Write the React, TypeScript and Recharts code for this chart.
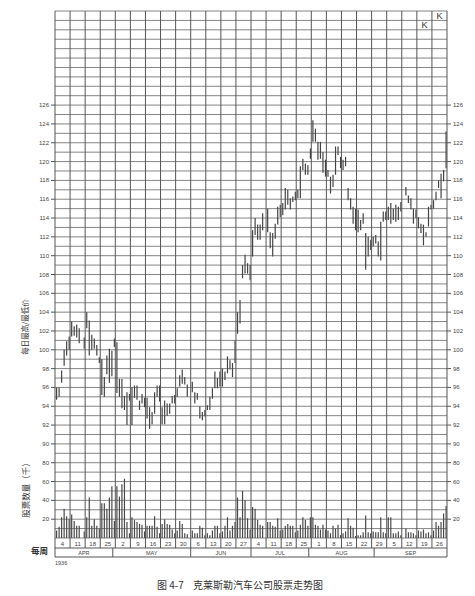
import { ComposedChart, Bar, XAxis, YAxis, CartesianGrid, ReferenceArea, ReferenceLine } from 'recharts';

// week-ending dates (Saturdays), April - September 1936
const weekLabels = ['4', '11', '18', '25', '2', '9', '16', '23', '30', '6', '13', '20', '27',
    '4', '11', '18', '25', '1', '8', '15', '22', '29', '5', '12', '19', '26'];
const monthNames = ['APR', 'MAY', 'JUN', 'JUL', 'AUG', 'SEP'];
const monthStarts = [0, 23, 54, 78, 101, 127]; // first trading-day slot of each month
const priceLabels = [90, 92, 94, 96, 98, 100, 102, 104, 106, 108, 110, 112, 114, 116, 118, 120, 122, 124, 126];
const volumeLabels = [20, 40, 60, 80];

// daily low / high (null = holiday), six slots per week
const lows = [
    94.7, 95.0, 96.5, 98.3, 99.4, 100.0,
    101.4, 101.5, 101.3, 100.7, null, 100.1,
    102.3, 99.4, 100.0, 100.1, 99.4, 98.6,
    95.2, 95.0, 97.4, 96.5, 97.2, 100.3,
    95.4, 95.0, 93.8, 93.6, 92.0, 94.6,
    92.0, 94.9, 94.7, 93.6, 94.3, 93.9,
    92.7, 91.6, 92.1, 93.2, 95.0, 94.5,
    92.1, 92.1, 93.0, 93.2, 94.3, 94.3,
    95.0, 96.1, 96.4, 96.3, 95.0, null,
    95.5, 94.3, 94.7, 92.7, 92.5, 92.9,
    93.6, 93.6, 94.8, 95.9, 95.9, 96.1,
    96.1, 96.8, 97.5, 97.9, 97.1, 98.6,
    101.7, 102.8, 107.6, 108.1, 108.1, 107.4,
    109.9, 112.2, 111.7, 111.7, 112.7, null,
    112.5, 110.8, 109.9, 111.8, 113.3, 114.1,
    114.3, 114.9, 115.4, 114.9, 115.7, 115.9,
    116.1, 116.1, 119.1, 118.6, 118.6, 120.3,
    122.1, 122.1, 120.2, 120.3, 118.8, 118.4,
    118.4, 116.6, 117.3, 118.6, 120.7, 119.3,
    119.1, 119.5, 115.9, 114.9, 113.4, 112.7,
    112.5, 112.7, 113.4, 108.5, 109.9, 110.6,
    111.0, 111.3, 109.9, 109.5, 113.6, 113.8,
    113.8, 113.4, 113.8, 113.6, 113.8, 114.7,
    null, 116.4, 115.6, 114.9, 113.4, 114.0,
    112.9, 112.4, 111.1, 112.0, 113.1, 114.9,
    115.0, 115.9, 117.2, 116.1, 117.9, 119.3,
];
const highs = [
    96.0, 96.0, 97.8, 100.0, 100.9, 101.4,
    103.0, 102.5, 102.7, 102.3, null, 101.3,
    104.0, 103.1, 101.6, 101.2, 100.5, 99.2,
    99.0, 97.1, 99.4, 100.1, 99.9, 101.2,
    100.8, 96.9, 96.9, 95.1, 95.5, 95.3,
    96.0, 96.2, 96.2, 94.6, 95.3, 94.9,
    94.9, 93.9, 93.4, 95.5, 96.2, 96.2,
    93.9, 94.6, 94.3, 94.3, 95.1, 95.2,
    95.9, 97.3, 97.9, 97.1, 96.3, null,
    96.6, 95.5, 95.4, 94.0, 93.4, 93.6,
    94.1, 95.0, 95.9, 97.7, 97.0, 97.7,
    98.0, 97.7, 99.3, 98.9, 98.6, 101.0,
    104.0, 105.3, 109.0, 110.1, 109.2, 109.0,
    112.7, 114.0, 113.3, 113.3, 114.5, null,
    115.0, 112.5, 112.4, 113.4, 115.2, 115.4,
    115.6, 117.2, 117.0, 116.1, 116.3, 116.8,
    117.0, 119.5, 120.3, 119.8, 119.6, 121.4,
    124.4, 123.5, 122.1, 122.1, 121.0, 120.2,
    119.1, 118.4, 118.6, 121.6, 121.6, 120.5,
    120.2, 120.5, 117.2, 116.1, 115.2, 115.0,
    114.9, 113.8, 114.5, 112.4, 112.0, 111.7,
    112.0, 112.2, 111.5, 113.6, 114.7, 114.7,
    115.2, 115.6, 115.0, 115.4, 115.2, 115.7,
    null, 117.3, 116.4, 116.1, 115.0, 114.9,
    114.1, 113.4, 113.3, 112.5, 115.2, 115.4,
    115.9, 116.8, 118.0, 118.7, 119.1, 123.2,
];
// daily volume, thousands of shares
const volumes = [
    8, 12, 22, 31, 23, 20,
    25, 18, 13, 13, null, 7,
    22, 43, 13, 20, 13, 10,
    37, 37, 31, 43, 55, 18,
    55, 44, 57, 63, 17, 5,
    22, 19, 17, 15, 14, 7,
    13, 13, 13, 23, 12, 5,
    15, 20, 15, 14, 9, 5,
    8, 18, 15, 5, 4, null,
    8, 5, 5, 13, 11, 3,
    5, 3, 8, 13, 13, 5,
    7, 13, 22, 8, 13, 17,
    43, 22, 50, 40, 21, 9,
    33, 31, 19, 14, 13, null,
    17, 17, 13, 12, 21, 8,
    9, 13, 15, 13, 13, 6,
    8, 14, 22, 19, 13, 22,
    22, 14, 13, 9, 14, 9,
    8, 5, 13, 10, 14, 3,
    5, 7, 21, 13, 11, 2,
    3, 3, 6, 24, 6, 5,
    7, 6, 6, 22, 6, 5,
    22, 22, 5, 5, 7, 3,
    null, 10, 6, 6, 5, 3,
    8, 7, 9, 5, 6, 3,
    8, 17, 13, 17, 26, 34,
];

const DAYS = lows.length;
const PRICE_DOMAIN: [number, number] = [80, 136];
const VOL_DOMAIN: [number, number] = [0, 560];
const X_DOMAIN: [number, number] = [-0.5, DAYS - 0.5];

const data = lows.map((lo, i) => ({
    day: i,
    hl: lo == null || highs[i] == null ? null : [lo, highs[i]],
    vol: volumes[i],
}));

const weekBounds = Array.from({ length: weekLabels.length + 1 }, (_, k) => k * 6 - 0.5);
const weekCenters = weekLabels.map((_, k) => k * 6 + 2.5);
const weekBoundSet = new Set(weekBounds);
const monthBounds = [...monthStarts.map((s) => s - 0.5), DAYS - 0.5];
const monthCenters = monthNames.map((_, k) => (monthBounds[k] + monthBounds[k + 1]) / 2);
const monthBoundSet = new Set(monthBounds);
const gridPrices = Array.from({ length: PRICE_DOMAIN[1] - PRICE_DOMAIN[0] + 1 }, (_, k) => PRICE_DOMAIN[0] + k);

// volume labels share the price grid: 0 sits on the bottom line
const volToPrice = (v: number) =>
    PRICE_DOMAIN[0] + (v / VOL_DOMAIN[1]) * (PRICE_DOMAIN[1] - PRICE_DOMAIN[0]);
const labelAt = (p: number) => {
    if (priceLabels.includes(p)) return String(p);
    const v = volumeLabels.find((vl) => Math.abs(volToPrice(vl) - p) < 1e-6);
    return v != null ? String(v) : '';
};

const LINE = '#555';
const TEXT = '#444';
const NUM_FONT = '"Liberation Sans", Arial, sans-serif';
const CJK_FONT = '"Noto Sans CJK SC", sans-serif';
const DAY_ROW = 10;
const MONTH_ROW = 9;

// eslint-disable-next-line @typescript-eslint/no-explicit-any
const leftTick = (props: any) => {
    const { x, y, payload } = props;
    const label = labelAt(payload.value);
    if (!label) return <g />;
    return (
        <g>
            <line x1={x - 4} x2={x} y1={y} y2={y} stroke={LINE} />
            <text x={x - 6} y={y} textAnchor="end" dominantBaseline="central" fontSize={6} fill={TEXT} fontFamily={NUM_FONT}>{label}</text>
        </g>
    );
};

// eslint-disable-next-line @typescript-eslint/no-explicit-any
const rightTick = (props: any) => {
    const { x, y, payload } = props;
    const label = labelAt(payload.value);
    if (!label) return <g />;
    return (
        <g>
            <line x1={x} x2={x + 4} y1={y} y2={y} stroke={LINE} />
            <text x={x + 6} y={y} textAnchor="start" dominantBaseline="central" fontSize={6} fill={TEXT} fontFamily={NUM_FONT}>{label}</text>
        </g>
    );
};

// eslint-disable-next-line @typescript-eslint/no-explicit-any
const dayTick = (props: any) => {
    const { x, y, payload } = props;
    const v = payload.value;
    if (weekBoundSet.has(v)) return <line x1={x} x2={x} y1={y} y2={y + DAY_ROW} stroke={LINE} />;
    const i = weekCenters.indexOf(v);
    return (
        <text x={x} y={y + DAY_ROW / 2 + 0.5} textAnchor="middle" dominantBaseline="central" fontSize={6} fill={TEXT} fontFamily={NUM_FONT}>
            {weekLabels[i]}
        </text>
    );
};

// eslint-disable-next-line @typescript-eslint/no-explicit-any
const monthTick = (props: any) => {
    const { x, y, payload } = props;
    const v = payload.value;
    if (monthBoundSet.has(v)) return <line x1={x} x2={x} y1={y} y2={y + MONTH_ROW} stroke={LINE} />;
    const i = monthCenters.indexOf(v);
    return (
        <text x={x} y={y + MONTH_ROW / 2 + 0.5} textAnchor="middle" dominantBaseline="central" fontSize={5.5} fill={TEXT} fontFamily={NUM_FONT}>
            {monthNames[i]}
        </text>
    );
};

// eslint-disable-next-line @typescript-eslint/no-explicit-any
const kLabel = (props: any) => {
    const { viewBox } = props;
    return (
        <text x={viewBox.x + viewBox.width / 2} y={viewBox.y + viewBox.height / 2} textAnchor="middle" dominantBaseline="central"
            fontSize={9} fill="#333" fontFamily={NUM_FONT}>K</text>
    );
};

const dayTicks = [...weekBounds, ...weekCenters].sort((a, b) => a - b);
const monthTicks = [...monthBounds, ...monthCenters].sort((a, b) => a - b);

export default function App() {
    return (
        <div style={{ position: 'absolute', left: 0, top: 0, width: 475, height: 596, background: '#fff' }}>
            <ComposedChart
                width={475}
                height={560}
                data={data}
                margin={{ top: 11, right: 0, left: 30, bottom: 0 }}
                style={{ position: 'absolute', left: 0, top: 0 }}
            >
                <CartesianGrid xAxisId={0} yAxisId="p" vertical={false} stroke="#777" strokeWidth={0.9} />
                {weekBounds.map((b) => (
                    <ReferenceLine key={b} xAxisId={0} yAxisId="p" x={b} stroke={LINE} strokeWidth={1} ifOverflow="visible" />
                ))}
                <XAxis xAxisId={0} dataKey="day" type="number" domain={X_DOMAIN} allowDataOverflow ticks={weekBounds}
                    interval={0} height={0} tick={false} tickLine={false} axisLine={false} />
                <XAxis xAxisId="d" dataKey="day" type="number" domain={X_DOMAIN} allowDataOverflow ticks={dayTicks}
                    interval={0} height={DAY_ROW} tick={dayTick} tickSize={0} tickMargin={0} tickLine={false} axisLine={false} />
                <XAxis xAxisId="m" dataKey="day" type="number" domain={X_DOMAIN} allowDataOverflow ticks={monthTicks}
                    interval={0} height={MONTH_ROW} tick={monthTick} tickSize={0} tickMargin={0} tickLine={false}
                    axisLine={{ stroke: LINE }} />
                <XAxis xAxisId="mb" dataKey="day" type="number" domain={X_DOMAIN} allowDataOverflow ticks={[]}
                    height={3} tick={false} tickLine={false} axisLine={{ stroke: LINE }} />
                <XAxis xAxisId="xv" dataKey="day" type="number" domain={X_DOMAIN} allowDataOverflow hide />
                <YAxis yAxisId="p" type="number" domain={PRICE_DOMAIN} allowDataOverflow ticks={gridPrices} interval={0}
                    width={25} tick={leftTick} tickSize={0} tickMargin={0} tickLine={false} axisLine={false} />
                <YAxis yAxisId="pr" orientation="right" type="number" domain={PRICE_DOMAIN} allowDataOverflow ticks={gridPrices}
                    interval={0} width={28} tick={rightTick} tickSize={0} tickMargin={0} tickLine={false} axisLine={false} />
                <YAxis yAxisId="v" type="number" domain={VOL_DOMAIN} allowDataOverflow hide />
                <Bar dataKey="hl" xAxisId={0} yAxisId="p" barSize={1.2} fill="#444" isAnimationActive={false} />
                <Bar dataKey="vol" xAxisId="xv" yAxisId="v" barSize={1.2} fill="#4a4a4a" isAnimationActive={false} />
                <ReferenceArea xAxisId={0} yAxisId="p" x1={143.5} x2={149.5} y1={134} y2={135} fillOpacity={0} strokeOpacity={0}
                    label={kLabel} />
                <ReferenceArea xAxisId={0} yAxisId="p" x1={149.5} x2={155.5} y1={135} y2={136} fillOpacity={0} strokeOpacity={0}
                    label={kLabel} />
            </ComposedChart>
            <svg width={475} height={596} style={{ position: 'absolute', left: 0, top: 0, pointerEvents: 'none' }}>
                <text transform="translate(24,327) rotate(-90)" textAnchor="middle" dominantBaseline="central"
                    fontSize={7.5} fill="#333" fontFamily={CJK_FONT}>每日最高/最低价</text>
                <text transform="translate(25,488) rotate(-90)" textAnchor="middle" dominantBaseline="central"
                    fontSize={8.5} fill="#333" fontFamily={CJK_FONT}>股票数量（千）</text>
                <text x={39.5} y={550} textAnchor="middle" dominantBaseline="central" fontSize={8.5} fontWeight={700}
                    fill="#333" fontFamily={CJK_FONT}>每周</text>
                <text x={55} y={563} dominantBaseline="central" fontSize={5.5} fill={TEXT} fontFamily={NUM_FONT}>1936</text>
                <text x={157} y={584} dominantBaseline="central" fontSize={10} fill="#333" fontFamily={CJK_FONT}>图 4-7</text>
                <text x={193} y={584} dominantBaseline="central" fontSize={10} fill="#333" fontFamily={CJK_FONT}>克莱斯勒汽车公司股票走势图</text>
            </svg>
        </div>
    );
}
